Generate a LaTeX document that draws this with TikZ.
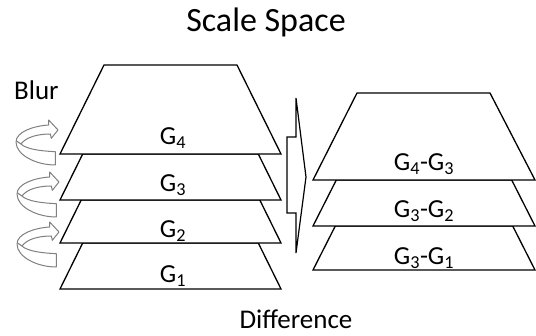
\documentclass[tikz,border=0pt]{standalone}
\usepackage{fontspec}
\setmainfont{Carlito}
\tikzset{
  layer/.style={draw=black,fill=white,line width=1.3pt,line join=miter},
  bigarrow/.style={draw=black,fill=white,line width=1.2pt,line join=miter},
  blurline/.style={draw=black!50,fill=white,line width=1pt,line join=round},
  lbl/.style={anchor=base,inner sep=0pt,font=\fontsize{26}{30}\selectfont},
  blurarrow/.pic={
    \path[blurline] (0,0) -- (-9.3,-10) -- (-9.3,-5)
      .. controls (-25,-4) and (-42,2) .. (-42,12)
      .. controls (-42,25) and (-22,35) .. (-2.7,35)
      -- (-2.7,21.7)
      .. controls (-18,21) and (-32,19) .. (-37,14)
      .. controls (-32,7) and (-20,4) .. (-7.7,4)
      -- (-6.7,8.3) -- cycle;
    \draw[blurline,fill=none] (-37,14) .. controls (-39,13) .. (-41.5,11);
  }
}
\begin{document}
\begin{tikzpicture}[x=1pt,y=-1pt]
\useasboundingbox (0,0) rectangle (536,336);
% left stack
\path[layer] (82.7,243) -- (258.3,243) -- (281,289) -- (60,289) -- cycle;
\path[layer] (81.2,200) -- (259.8,200) -- (281,243) -- (60,243) -- cycle;
\path[layer] (82.7,154) -- (258.3,154) -- (281,200) -- (60,200) -- cycle;
\path[layer] (104,65) -- (237,65) -- (281,154) -- (60,154) -- cycle;
% right stack
\path[layer] (335.3,226) -- (512.7,226) -- (535,270) -- (313,270) -- cycle;
\path[layer] (336.3,180) -- (511.7,180) -- (535,226) -- (313,226) -- cycle;
\path[layer] (357,93) -- (490,93) -- (535,180) -- (313,180) -- cycle;
% big arrow
\path[bigarrow] (296,98) -- (306,177) -- (296,253) -- (296,213) -- (287,213)
  -- (287,137) -- (296,137) -- cycle;
% blur arrows
\pic at (58,130) {blurarrow};
\pic at (59,182) {blurarrow};
\pic at (59,232) {blurarrow};
% labels
\node[lbl] (g4) at (173,145) {G\textsubscript{4}};
\node[lbl] (g3) at (173,192) {G\textsubscript{3}};
\node[lbl] (g2) at (173,238) {G\textsubscript{2}};
\node[lbl] (g1) at (173,283) {G\textsubscript{1}};
\node[lbl] (d43) at (424,171) {G\textsubscript{4}-G\textsubscript{3}};
\node[lbl] (d32) at (424,218) {G\textsubscript{3}-G\textsubscript{2}};
\node[lbl] (d31) at (424,265) {G\textsubscript{3}-G\textsubscript{1}};
\node[anchor=base,inner sep=0pt,font=\fontsize{34}{40}\selectfont] (title) at (266,32) {Scale Space};
\node[anchor=base west,inner sep=0pt,font=\fontsize{27}{32}\selectfont] (blur) at (14,100) {Blur};
\node[anchor=base,inner sep=0pt,font=\fontsize{27}{32}\selectfont] (diff) at (296,329) {Difference};
\end{tikzpicture}
\end{document}
